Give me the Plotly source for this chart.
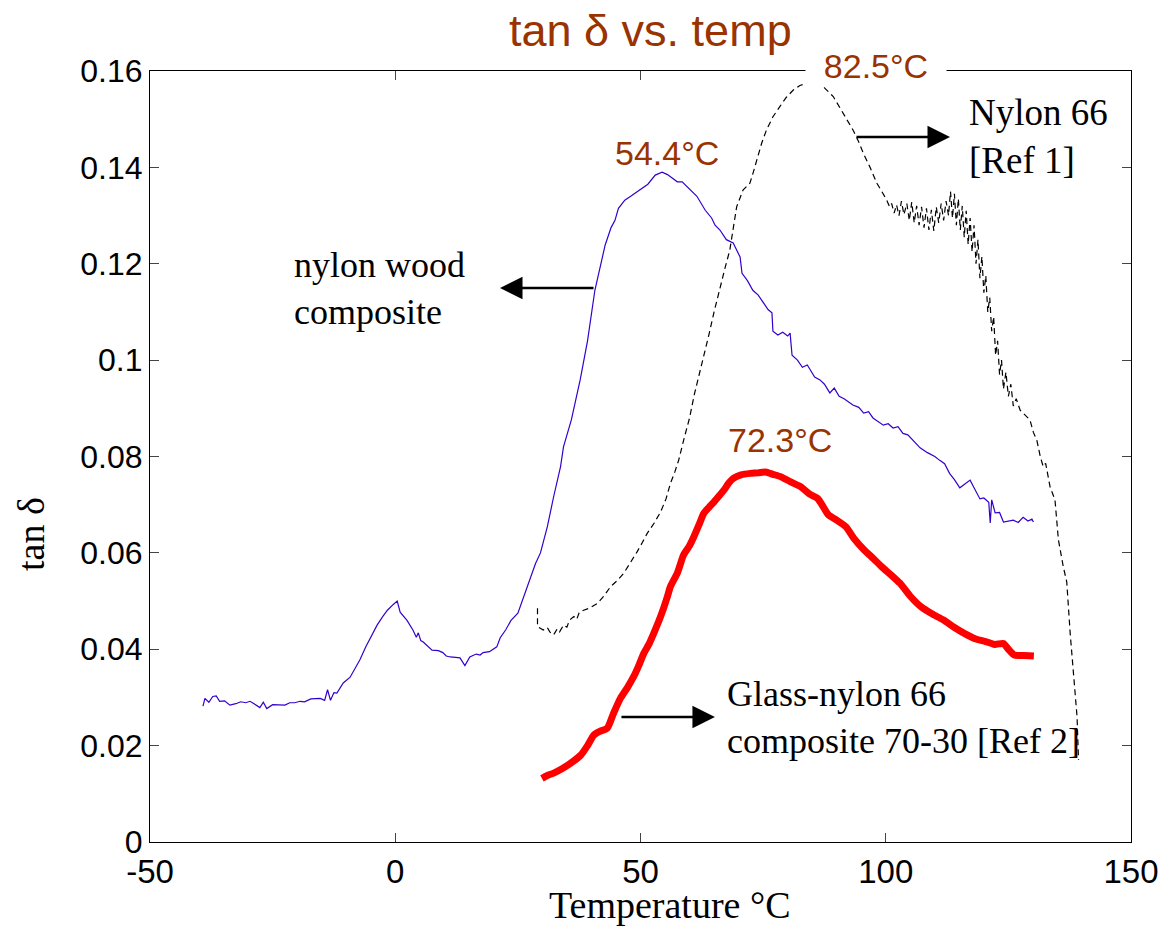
import plotly.graph_objects as go

# Datos: tan delta vs temperatura
# compuesto nylon-madera (linea azul)
TEMP_MADERA = [-39.2, -38.8, -38.0, -37.2, -36.5, -35.8, -34.8, -33.7, -32.5, -31.5, -30.5, -29.6,
               -28.8, -27.6, -26.9, -26.2, -25.0, -23.5, -22.5, -21.5, -20.5, -19.4, -18.5, -17.2,
               -15.3, -14.4, -13.8, -13.2, -12.5, -11.9, -10.6, -9.2, -8.2, -7.2, -6.0, -5.1,
               -3.7, -2.6, -1.6, -0.4, 0.4, 1.0, 2.4, 3.6, 4.3, 4.7, 5.2, 5.7, 6.5, 7.5, 8.8,
               9.7, 10.4, 11.2, 12.3, 13.2, 14.2, 15.2, 16.5, 17.3, 17.9, 19.2, 20.7, 21.4, 22.5,
               23.6, 25.0, 26.2, 27.6, 28.6, 29.6, 31.0, 32.3, 33.7, 34.3, 35.9, 37.7, 39.2,
               40.7, 42.0, 42.8, 44.0, 44.8, 45.5, 46.8, 48.0, 49.9, 51.5, 53.0, 54.4, 55.5,
               56.4, 57.5, 58.5, 60.1, 61.5, 63.2, 64.5, 65.2, 66.2, 67.5, 68.9, 70.3, 70.7,
               71.8, 72.9, 74.0, 75.0, 76.0, 76.8, 77.0, 78.0, 79.0, 80.0, 80.5, 80.9, 82.0,
               83.0, 84.0, 84.6, 85.5, 86.6, 87.5, 88.6, 89.5, 90.5, 91.5, 93.3, 94.5, 95.5,
               96.5, 97.4, 98.5, 99.5, 100.5, 101.5, 102.5, 103.5, 104.5, 105.5, 107.0, 108.5,
               110.0, 111.0, 112.0, 113.0, 114.0, 115.1, 116.0, 117.2, 118.0, 119.2, 120.0,
               121.0, 121.3, 121.6, 122.3, 123.2, 124.0, 125.0, 126.0, 127.0, 128.0, 129.0,
               129.8, 130.1]
TAN_MADERA = [0.0282, 0.0298, 0.0290, 0.0302, 0.0303, 0.0292, 0.0293, 0.0284, 0.0287, 0.0291, 0.0289, 0.0292,
              0.0287, 0.0279, 0.0290, 0.0277, 0.0285, 0.0285, 0.0284, 0.0289, 0.0289, 0.0292, 0.0291, 0.0297,
              0.0298, 0.0294, 0.0316, 0.0294, 0.0310, 0.0309, 0.0330, 0.0342, 0.0360, 0.0378, 0.0405, 0.0423,
              0.0450, 0.0467, 0.0481, 0.0493, 0.0500, 0.0477, 0.0460, 0.0440, 0.0425, 0.0434, 0.0418, 0.0415,
              0.0408, 0.0398, 0.0397, 0.0393, 0.0386, 0.0384, 0.0383, 0.0382, 0.0366, 0.0384, 0.0390, 0.0388,
              0.0393, 0.0395, 0.0405, 0.0424, 0.0440, 0.0460, 0.0475, 0.0509, 0.0550, 0.0578, 0.0600, 0.0654,
              0.0717, 0.0779, 0.0820, 0.0876, 0.0959, 0.1040, 0.1145, 0.1200, 0.1239, 0.1275, 0.1290, 0.1315,
              0.1332, 0.1340, 0.1353, 0.1365, 0.1384, 0.1390, 0.1385, 0.1378, 0.1370, 0.1370, 0.1353, 0.1340,
              0.1311, 0.1295, 0.1280, 0.1270, 0.1250, 0.1243, 0.1214, 0.1180, 0.1165, 0.1145, 0.1135, 0.1120,
              0.1105, 0.1098, 0.1060, 0.1052, 0.1058, 0.1050, 0.1056, 0.1010, 0.1000, 0.0985, 0.0990, 0.0980,
              0.0965, 0.0959, 0.0950, 0.0932, 0.0942, 0.0925, 0.0920, 0.0907, 0.0902, 0.0890, 0.0893, 0.0880,
              0.0872, 0.0865, 0.0868, 0.0859, 0.0862, 0.0848, 0.0845, 0.0835, 0.0818, 0.0808, 0.0800, 0.0792,
              0.0785, 0.0765, 0.0752, 0.0735, 0.0742, 0.0751, 0.0735, 0.0712, 0.0714, 0.0705, 0.0662, 0.0710,
              0.0683, 0.0684, 0.0664, 0.0666, 0.0668, 0.0663, 0.0674, 0.0666, 0.0670, 0.0664]

# Nylon 66 [Ref 1] (linea negra discontinua)
TEMP_NYLON = [29.0, 29.0, 30.2, 31.0, 31.5, 32.3, 33.0, 33.5, 34.3, 35.0, 35.5, 36.4, 37.0, 37.5, 38.4,
              39.5, 41.2, 42.5, 43.9, 45.2, 46.6, 48.0, 49.3, 50.4, 51.4, 52.8, 54.1, 55.2, 56.1, 57.0,
              57.8, 58.8, 60.0, 61.0, 62.0, 63.0, 64.0, 65.0, 66.2, 67.2, 68.2, 69.0, 69.6, 70.9, 72.3,
              73.0, 73.7, 74.7, 75.7, 77.0, 78.4, 79.7, 81.1, 82.5, 83.9, 85.0, 85.9, 87.5, 89.3, 90.3,
              91.3, 92.3, 93.3, 94.4, 95.4, 96.8, 98.2, 99.2, 100.2, 100.8, 101.2, 101.7, 102.2, 102.7,
              103.2, 103.7, 104.3, 104.8, 105.3, 105.8, 106.3, 106.8, 107.3, 107.8, 108.3, 108.8, 109.3,
              109.8, 110.3, 110.8, 111.3, 111.8, 112.3, 112.8, 113.2, 113.6, 114.0, 114.4, 114.8, 115.2,
              115.6, 116.0, 116.4, 116.8, 117.2, 117.6, 118.0, 118.4, 118.8, 119.2, 119.6, 120.0, 120.4,
              120.8, 121.2, 121.6, 122.0, 122.4, 122.8, 123.2, 123.6, 124.0, 124.5, 125.0, 125.5, 126.0,
              126.6, 127.4, 128.4, 129.4, 130.1, 130.8, 131.5, 132.1, 132.6, 133.5, 134.5, 135.2, 136.2,
              136.9, 137.6, 138.2, 139.0, 139.3]
TAN_NYLON = [0.0485, 0.0447, 0.0440, 0.0445, 0.0436, 0.0430, 0.0442, 0.0436, 0.0450, 0.0446, 0.0460, 0.0468,
             0.0462, 0.0476, 0.0481, 0.0485, 0.0495, 0.0510, 0.0530, 0.0542, 0.0558, 0.0580, 0.0602, 0.0622,
             0.0641, 0.0662, 0.0685, 0.0712, 0.0744, 0.0768, 0.0793, 0.0834, 0.0880, 0.0930, 0.0970, 0.1010,
             0.1055, 0.1100, 0.1152, 0.1190, 0.1228, 0.1280, 0.1318, 0.1353, 0.1367, 0.1390, 0.1415, 0.1450,
             0.1478, 0.1505, 0.1526, 0.1545, 0.1560, 0.1570, 0.1574, 0.1572, 0.1577, 0.1565, 0.1547, 0.1530,
             0.1513, 0.1495, 0.1478, 0.1455, 0.1430, 0.1400, 0.1367, 0.1350, 0.1332, 0.1318, 0.1325, 0.1305,
             0.1322, 0.1300, 0.1330, 0.1302, 0.1325, 0.1290, 0.1328, 0.1285, 0.1320, 0.1280, 0.1318, 0.1275,
             0.1315, 0.1270, 0.1312, 0.1268, 0.1318, 0.1285, 0.1325, 0.1290, 0.1330, 0.1300, 0.1350, 0.1295,
             0.1345, 0.1280, 0.1335, 0.1270, 0.1320, 0.1255, 0.1310, 0.1240, 0.1295, 0.1225, 0.1280, 0.1200,
             0.1250, 0.1170, 0.1215, 0.1140, 0.1175, 0.1100, 0.1130, 0.1060, 0.1090, 0.1010, 0.1040, 0.0970,
             0.1000, 0.0940, 0.0975, 0.0925, 0.0950, 0.0905, 0.0920, 0.0896, 0.0885, 0.0876, 0.0850, 0.0834,
             0.0800, 0.0779, 0.0786, 0.0737, 0.0710, 0.0627, 0.0571, 0.0540, 0.0433, 0.0357, 0.0260, 0.0170]

# Vidrio-nylon 66 70-30 [Ref 2] (linea roja gruesa)
TEMP_VIDRIO = [29.9, 31.0, 32.3, 34.0, 35.7, 37.8, 39.2, 40.5, 41.8, 43.2, 44.5, 45.9, 47.3, 48.6, 49.6,
               50.7, 51.7, 52.7, 53.8, 54.8, 55.5, 56.1, 57.5, 58.8, 60.0, 60.9, 62.0, 62.9, 64.0, 65.0,
               66.0, 67.0, 68.0, 69.0, 70.5, 72.4, 74.0, 75.5, 77.0, 78.6, 80.5, 82.7, 84.5, 86.1, 87.3,
               88.3, 90.0, 91.9, 93.5, 95.6, 97.5, 99.2, 101.0, 102.9, 105.0, 107.2, 109.5, 111.7, 114.0,
               116.0, 118.2, 120.4, 122.2, 124.0, 125.0, 126.2, 128.2, 130.2]
TAN_VIDRIO = [0.0132, 0.0138, 0.0143, 0.0152, 0.0163, 0.0180, 0.0200, 0.0222, 0.0230, 0.0236, 0.0267, 0.0298,
              0.0320, 0.0343, 0.0365, 0.0392, 0.0410, 0.0433, 0.0460, 0.0488, 0.0510, 0.0530, 0.0558, 0.0596,
              0.0615, 0.0634, 0.0660, 0.0682, 0.0695, 0.0706, 0.0718, 0.0730, 0.0745, 0.0755, 0.0762, 0.0765,
              0.0766, 0.0768, 0.0763, 0.0758, 0.0748, 0.0737, 0.0722, 0.0713, 0.0695, 0.0679, 0.0668, 0.0654,
              0.0630, 0.0606, 0.0588, 0.0571, 0.0555, 0.0537, 0.0510, 0.0488, 0.0473, 0.0461, 0.0445, 0.0433,
              0.0422, 0.0416, 0.0410, 0.0412, 0.0400, 0.0388, 0.0387, 0.0386]

# Ejes
X_TICKS = [-50, 0, 50, 100, 150]
X_TICK_TEXT = ['-50', '0', '50', '100', '150']
Y_TICKS = [0, 0.02, 0.04, 0.06, 0.08, 0.1, 0.12, 0.14, 0.16]
Y_TICK_TEXT = ['0', '0.02', '0.04', '0.06', '0.08', '0.1', '0.12', '0.14', '0.16']

# Picos
PICOS = ['82.5°C', '54.4°C', '72.3°C']

MARRON = '#993300'
SANS = 'Liberation Sans, Arial, sans-serif'
SERIF = 'Liberation Serif, Times New Roman, serif'

fig = go.Figure()
fig.add_trace(go.Scatter(x=TEMP_MADERA, y=TAN_MADERA, mode='lines',
                         line=dict(color='#3300CC', width=1.2)))
fig.add_trace(go.Scatter(x=TEMP_NYLON, y=TAN_NYLON, mode='lines',
                         line=dict(color='black', width=1.2, dash='6px,4px')))
fig.add_trace(go.Scatter(x=TEMP_VIDRIO, y=TAN_VIDRIO, mode='lines',
                         line=dict(color='#FF0000', width=7, shape='spline', smoothing=0.6)))

# textos
anotaciones = [
    dict(text='tan δ vs. temp', x=0.5097, y=1.052, font=dict(family=SANS, size=45, color=MARRON)),
    dict(text=PICOS[0], x=0.740, y=1.0065, font=dict(family=SANS, size=34, color=MARRON),
         bgcolor='white', width=138),
    dict(text=PICOS[1], x=0.527, y=0.8937, font=dict(family=SANS, size=34, color=MARRON)),
    dict(text=PICOS[2], x=0.642, y=0.5214, font=dict(family=SANS, size=34, color=MARRON)),
    dict(text='Temperature °C', x=0.530, y=-0.0817, font=dict(family=SERIF, size=38, color='black')),
    dict(text='tan δ', x=-0.1213, y=0.3995, textangle=-90, font=dict(family=SERIF, size=38, color='black')),
    dict(text='Nylon 66<br>[Ref 1]', x=0.8328, y=0.9144, xanchor='left', align='left',
         font=dict(family=SERIF, size=37, color='black')),
    dict(text='nylon wood<br>composite', x=0.1448, y=0.7185, xanchor='left', align='left',
         font=dict(family=SERIF, size=36, color='black')),
    dict(text='Glass-nylon 66<br>composite 70-30 [Ref 2]', x=0.5861, y=0.1621, xanchor='left', align='left',
         font=dict(family=SERIF, size=36, color='black')),
]
for a in anotaciones:
    a.setdefault('xanchor', 'center')
    fig.add_annotation(xref='paper', yref='paper', yanchor='middle', showarrow=False, **a)

# flechas
flechas = [(0.8155, 0.9144, -95), (0.3568, 0.7185, 95), (0.5759, 0.1621, -95)]
for fx, fy, dx in flechas:
    fig.add_annotation(xref='paper', yref='paper', x=fx, y=fy, ax=dx, ay=0, text='',
                       showarrow=True, arrowhead=2, arrowsize=1.8, arrowwidth=2.5, arrowcolor='black')

fig.update_xaxes(range=[-50, 150], tickvals=X_TICKS, ticktext=X_TICK_TEXT, ticks='inside', ticklen=9,
                 mirror='ticks', showline=True, linecolor='black', linewidth=1.2, showgrid=False,
                 zeroline=False, tickfont=dict(family=SANS, size=33, color='black'))
fig.update_yaxes(range=[0, 0.16], tickvals=Y_TICKS, ticktext=Y_TICK_TEXT, ticks='inside', ticklen=9,
                 mirror='ticks', showline=True, linecolor='black', linewidth=1.2, showgrid=False,
                 zeroline=False, tickfont=dict(family=SANS, size=32, color='black'))
# la pagina tiene 8px de margen, se descuenta aqui
fig.update_layout(width=1167, height=924, showlegend=False, plot_bgcolor='white', paper_bgcolor='white',
                  margin=dict(l=142, r=44, t=63, b=90))
fig.write_html('out.html')
